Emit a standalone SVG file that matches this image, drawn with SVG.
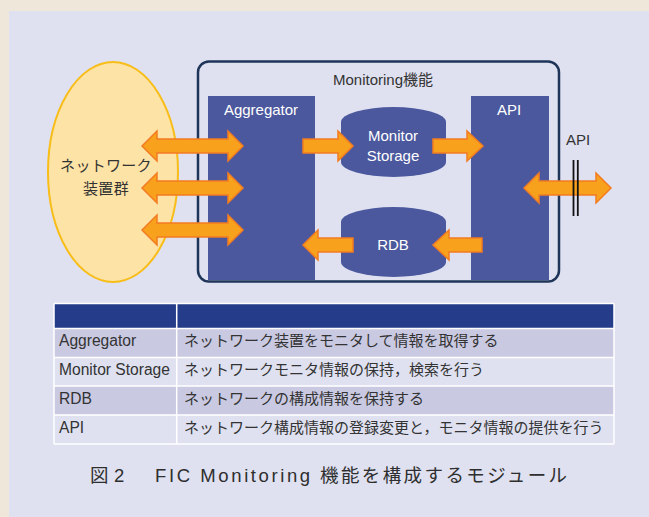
<svg xmlns="http://www.w3.org/2000/svg" width="649" height="517" viewBox="0 0 649 517">
<defs>
<style>
.lat{font-family:"Liberation Sans",Arial,sans-serif;}
.jp{font-family:"Noto Sans CJK JP","Liberation Sans",sans-serif;}
.mix{font-family:"Liberation Sans","Noto Sans CJK JP",sans-serif;}
.wt{fill:#ffffff;font-size:15px;}
.dk{fill:#333333;font-size:15px;}
.tl{font-size:15.6px;}
.col{fill:#4b589d;}
.arr{fill:#f7a11c;stroke:#f37b22;stroke-width:1.5;stroke-linejoin:miter;}
.cyl{fill:#4b589d;}
.grid{stroke:#ffffff;stroke-width:1.5;fill:none;}
</style>
</defs>
<rect x="0" y="0" width="649" height="517" fill="#efe7d9"/>
<rect x="9" y="11" width="640" height="506" fill="#dfe1f0"/>

<g id="network">
<ellipse cx="113" cy="172" rx="65" ry="110" fill="#fde3a6" stroke="#f8bd18" stroke-width="2"/>
<text class="jp dk" x="106" y="171" text-anchor="middle" letter-spacing="0.3">ネットワーク</text>
<text class="jp dk" x="106" y="194" text-anchor="middle" letter-spacing="0.3">装置群</text>
</g>

<g id="monitoring">
<rect x="198" y="61.5" width="361" height="220" rx="11" ry="11" fill="none" stroke="#1f3459" stroke-width="2.5"/>
<text class="mix dk" x="383" y="85" text-anchor="middle">Monitoring機能</text>
</g>

<g id="aggregator">
<rect class="col" x="208" y="96" width="107" height="184"/>
<text class="lat wt" x="261" y="115" text-anchor="middle">Aggregator</text>
</g>

<g id="api">
<rect class="col" x="471" y="96" width="78" height="184"/>
<text class="lat wt" x="509" y="115" text-anchor="middle">API</text>
</g>

<g id="monitor-storage">
<path class="cyl" d="M341,122 A52.5,15 0 0 1 446,122 L446,162 A52.5,15 0 0 1 341,162 Z"/>
<text class="lat wt" x="393" y="141" text-anchor="middle">Monitor</text>
<text class="lat wt" x="393" y="161" text-anchor="middle">Storage</text>
</g>

<g id="rdb">
<path class="cyl" d="M341,222 A52.5,15 0 0 1 446,222 L446,262 A52.5,15 0 0 1 341,262 Z"/>
<text class="lat wt" x="393" y="250" text-anchor="middle">RDB</text>
</g>

<g id="connectors">
<path class="arr" d="M142,146 L157,131 L157,139 L228,139 L228,131 L243,146 L228,161 L228,153 L157,153 L157,161 Z"/>
<path class="arr" d="M142,188 L157,173 L157,181 L228,181 L228,173 L243,188 L228,203 L228,195 L157,195 L157,203 Z"/>
<path class="arr" d="M142,230 L157,215 L157,223 L228,223 L228,215 L243,230 L228,245 L228,237 L157,237 L157,245 Z"/>
<path class="arr" d="M303,139 L338,139 L338,131 L353,146 L338,161 L338,153 L303,153 Z"/>
<path class="arr" d="M433,139 L467,139 L467,131 L483,146 L467,161 L467,153 L433,153 Z"/>
<path class="arr" d="M482,238 L449,238 L449,230 L433,245 L449,260 L449,252 L482,252 Z"/>
<path class="arr" d="M353,238 L318,238 L318,230 L303,245 L318,260 L318,252 L353,252 Z"/>
<path class="arr" d="M524,188 L539,173 L539,181 L596,181 L596,173 L611,188 L596,203 L596,195 L539,195 L539,203 Z"/>
<line x1="573.5" y1="160" x2="573.5" y2="216" stroke="#111111" stroke-width="1.8"/>
<line x1="577.8" y1="160" x2="577.8" y2="216" stroke="#111111" stroke-width="1.8"/>
<text class="lat dk" x="578" y="145" text-anchor="middle">API</text>
</g>

<g id="table">
<rect x="54" y="303.5" width="560" height="25" fill="#243c8a"/>
<rect x="54" y="328.5" width="560" height="29" fill="#c9c9e1"/>
<rect x="54" y="357.5" width="560" height="28.5" fill="#dfe1f0"/>
<rect x="54" y="386" width="560" height="29" fill="#c9c9e1"/>
<rect x="54" y="415" width="560" height="29" fill="#dfe1f0"/>
<path class="grid" d="M54,303.5 H614 M54,328.5 H614 M54,357.5 H614 M54,386 H614 M54,415 H614 M54,444 H614 M54,303.5 V444 M176.7,303.5 V444 M614,303.5 V444"/>
<text class="lat dk tl" x="59" y="346">Aggregator</text>
<text class="lat dk tl" x="59" y="375">Monitor Storage</text>
<text class="lat dk tl" x="59" y="404">RDB</text>
<text class="lat dk tl" x="59" y="433">API</text>
<text class="jp dk" x="184" y="346">ネットワーク装置をモニタして情報を取得する</text>
<text class="jp dk" x="184" y="375">ネットワークモニタ情報の保持，検索を行う</text>
<text class="jp dk" x="184" y="404">ネットワークの構成情報を保持する</text>
<text class="jp dk" x="184" y="433">ネットワーク構成情報の登録変更と，モニタ情報の提供を行う</text>
</g>

<g id="caption">
<text class="mix" fill="#2e2e2e" font-size="18.5" y="482"><tspan x="90">図</tspan><tspan x="114">2</tspan><tspan x="155" letter-spacing="2.6">FIC Monitoring</tspan><tspan x="320" letter-spacing="2.4">機能を構成するモジュール</tspan></text>
</g>
</svg>
